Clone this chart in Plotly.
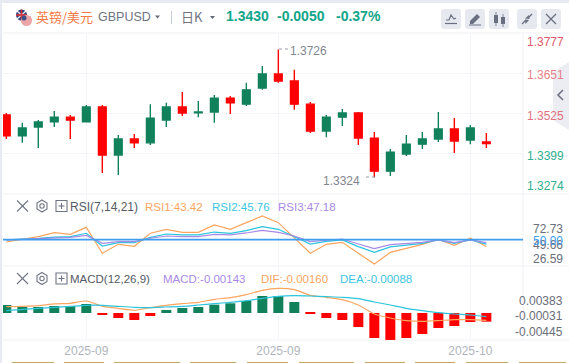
import plotly.graph_objects as go

W, H = 569, 363
dates = ["08-25","08-26","08-27","08-28","08-29","09-01","09-02","09-03","09-04","09-05","09-08",
         "09-09","09-10","09-11","09-12","09-15","09-16","09-17","09-18","09-19","09-22","09-23",
         "09-24","09-25","09-26","09-29","09-30","10-01","10-02","10-03","10-06"]
open_ = [1.3520,1.3454,1.3482,1.3498,1.3513,1.3498,1.3545,1.3394,1.3444,1.3432,1.3504,1.3545,1.3527,1.3529,1.3573,1.3554,
         1.3605,1.3649,1.3627,1.3554,1.3469,1.3513,1.3526,1.3447,1.3343,1.3397,1.3428,1.3444,1.3476,1.3441,1.3435]
close = [1.3454,1.3479,1.3498,1.3513,1.3504,1.3545,1.3394,1.3444,1.3432,1.3510,1.3545,1.3526,1.3529,1.3573,1.3558,1.3599,
         1.3649,1.3627,1.3554,1.3469,1.3513,1.3526,1.3447,1.3343,1.3403,1.3428,1.3444,1.3476,1.3438,1.3479,1.3430]
high =  [1.3526,1.3495,1.3504,1.3532,1.3520,1.3551,1.3551,1.3457,1.3460,1.3554,1.3558,1.3592,1.3564,1.3583,1.3580,1.3621,
         1.3674,1.3726,1.3662,1.3561,1.3520,1.3539,1.3529,1.3466,1.3413,1.3457,1.3466,1.3529,1.3510,1.3488,1.3463]
low =   [1.3444,1.3432,1.3416,1.3482,1.3444,1.3498,1.3337,1.3331,1.3416,1.3425,1.3482,1.3517,1.3513,1.3495,1.3523,1.3548,
         1.3599,1.3621,1.3536,1.3463,1.3450,1.3485,1.3425,1.3324,1.3328,1.3391,1.3413,1.3435,1.3400,1.3428,1.3416]
rsi1 = [47.7,50.3,52.9,56.7,55.1,61.8,36.9,45.5,43.6,56.1,59.9,57.0,57.0,64.1,59.9,66.3,72.7,66.3,51.9,36.9,45.5,47.4,
        36.9,26.6,37.8,41.7,45.5,50.3,44.5,51.3,43.42]
rsi2 = [49.7,50.3,51.3,52.5,52.9,56.1,43.9,47.1,47.1,52.2,55.4,54.5,54.5,57.3,56.1,58.6,62.5,59.9,52.9,45.8,48.4,49.7,
        43.3,37.8,43.0,44.5,46.5,49.7,46.5,49.7,45.76]
rsi3 = [49.7,50.3,51.0,51.9,52.2,54.1,46.5,48.1,48.1,51.3,53.5,52.9,52.9,55.1,54.5,56.4,58.9,57.0,53.5,48.1,49.7,50.6,
        45.8,41.3,45.2,46.5,47.4,49.7,47.1,49.7,47.18]
macd = [.00132,.00099,.00099,.00116,.00116,.00149,-.00033,-.00083,-.00116,-.00050,.00050,.00083,.00099,.00138,.00160,.00198,
        .00281,.00281,.00182,-.00017,-.00083,-.00116,-.00231,-.00413,-.00445,-.00413,-.00347,-.00248,-.00215,-.00149,-.00143]
dif = [.00105,.00110,.00121,.00149,.00160,.00198,.00110,.00077,.00044,.00088,.00127,.00154,.00176,.00226,.00253,.00303,
       .00374,.00407,.00385,.00292,.00259,.00220,.00132,-.00017,-.00083,-.00127,-.00138,-.00127,-.00110,-.00110,-.00121]
dea = [.00039,.00061,.00077,.00094,.00110,.00127,.00127,.00110,.00094,.00088,.00099,.00110,.00132,.00154,.00176,.00204,
       .00242,.00275,.00286,.00281,.00270,.00259,.00237,.00182,.00132,.00077,.00039,.00006,-.00017,-.00033,-.00061]
x_ticks = ["09-01", "09-17", "10-03"]
x_text = ["2025-09", "2025-09", "2025-10"]
price_ticks = [1.3651, 1.3525, 1.3399]

GREEN, RED = "#10815a", "#ff0000"
ORANGE, CYAN, PURPLE, BLUE = "#fba55f", "#2bc4dc", "#a98ae6", "#3f9df0"
GRID = "#f4f5f8"
FONT = "Liberation Sans"

def px(x): return x / W
def py(y): return 1 - y / H

fig = go.Figure()
fig.add_trace(go.Candlestick(x=dates, open=open_, high=high, low=low, close=close, xaxis="x", yaxis="y",
    increasing=dict(line=dict(color=GREEN, width=1.4), fillcolor=GREEN),
    decreasing=dict(line=dict(color=RED, width=1.4), fillcolor=RED),
    whiskerwidth=0, hoverinfo="skip"))
for v, c in ((rsi1, ORANGE), (rsi2, CYAN), (rsi3, PURPLE)):
    fig.add_trace(go.Scatter(x=dates, y=v, mode="lines", line=dict(color=c, width=1.2), xaxis="x2", yaxis="y2", hoverinfo="skip"))
fig.add_trace(go.Bar(x=dates, y=macd, marker=dict(color=[GREEN if m > 0 else RED for m in macd], line_width=0),
                     xaxis="x3", yaxis="y3", hoverinfo="skip"))
for v, c in ((dif, ORANGE), (dea, CYAN)):
    fig.add_trace(go.Scatter(x=dates, y=v, mode="lines", line=dict(color=c, width=1.2, shape="spline", smoothing=0.6),
                             xaxis="x3", yaxis="y3", hoverinfo="skip"))

xcommon = dict(type="category", categoryorder="array", categoryarray=dates, range=[-0.206, 32.29],
               tickmode="array", tickvals=x_ticks, ticktext=x_text, showgrid=True, gridcolor=GRID, gridwidth=1,
               zeroline=False, showline=False, ticks="", domain=[px(3), px(523)], fixedrange=True,
               rangeslider=dict(visible=False))
ycommon = dict(side="right", showticklabels=False, zeroline=False, showline=False, ticks="", fixedrange=True)

fig.update_layout(
    width=W, height=H, margin=dict(l=0, r=0, t=0, b=0), paper_bgcolor="white", plot_bgcolor="white",
    showlegend=False, boxgap=0.31, bargap=0.375, font=dict(family=FONT),
    xaxis={**xcommon, "anchor": "y", "showticklabels": False},
    xaxis2={**xcommon, "anchor": "y2", "showticklabels": False, "matches": "x"},
    xaxis3={**xcommon, "anchor": "y3", "showticklabels": True, "matches": "x", "ticklabelstandoff": 2,
            "tickfont": dict(color="#b2b5c0", size=12, family=FONT)},
    yaxis={**ycommon, "domain": [py(194), py(33)], "range": [1.3271, 1.3778], "tickmode": "array",
           "tickvals": price_ticks, "showgrid": True, "gridcolor": GRID, "anchor": "x"},
    yaxis2={**ycommon, "domain": [py(266), py(194)], "range": [24.7, 93.8], "showgrid": False, "anchor": "x2"},
    yaxis3={**ycommon, "domain": [py(340), py(266)], "range": [-.00446, .00776], "showgrid": False, "anchor": "x3"},
)

shapes = []
def rect(x0, y0, x1, y1, color):
    shapes.append(dict(type="rect", xref="paper", yref="paper", x0=px(x0), x1=px(x1), y0=py(y1), y1=py(y0),
                       fillcolor=color, line_width=0, layer="below"))
def seg(points, color, width=1.5, dash=None, fill=None, closed=False):
    d = "M" + " L".join(f"{px(a):.5f},{py(b):.5f}" for a, b in points) + (" Z" if closed else "")
    shapes.append(dict(type="path", xref="paper", yref="paper", path=d, fillcolor=fill,
                       line=dict(color=color, width=width, dash=dash or "solid") if width else dict(width=0)))
def rrect(x0, y0, x1, y1, r, color):
    d = (f"M{px(x0+r)},{py(y0)} L{px(x1-r)},{py(y0)} Q{px(x1)},{py(y0)} {px(x1)},{py(y0+r)} "
         f"L{px(x1)},{py(y1-r)} Q{px(x1)},{py(y1)} {px(x1-r)},{py(y1)} L{px(x0+r)},{py(y1)} "
         f"Q{px(x0)},{py(y1)} {px(x0)},{py(y1-r)} L{px(x0)},{py(y0+r)} Q{px(x0)},{py(y0)} {px(x0+r)},{py(y0)} Z")
    shapes.append(dict(type="path", xref="paper", yref="paper", path=d, fillcolor=color, line_width=0))
def circle(cx, cy, r, color):
    shapes.append(dict(type="circle", xref="paper", yref="paper", x0=px(cx-r), x1=px(cx+r), y0=py(cy+r), y1=py(cy-r),
                       fillcolor=color, line_width=0))

# page frame
rect(0, 0, W, 3, "#e8eaf2")
rect(0, 0, 2, H, "#e8eaf2")
for y in (33, 194, 266, 340):
    rect(3, y - 0.5, 569, y + 0.5, "#f1f2f6")
rect(522.5, 33, 523.5, 340, "#f1f2f6")
# bottom tabs
for a, b in ((12,54),(64,104),(114,180),(190,236),(247,288),(299,354),(365,405),(415,455),(466,508),(519,566)):
    rect(a, 362, b, 363, "#c9a560")
# collapse tab
seg([(569,62),(553,72),(553,120),(569,130)], "#ecedf2", 0, fill="#ecedf2", closed=True)
seg([(563,90),(558,95),(563,100)], "#6f7484", 1.6)
# flags
circle(21.5, 15, 5.5, "#2a3f7e")
seg([(17,11),(26,19)], "#e8e8ee", 1.5); seg([(26,11),(17,19)], "#e8e8ee", 1.5)
seg([(21.5,9.5),(21.5,20.5)], "#d8303a", 1.6); seg([(16,15),(27,15)], "#d8303a", 1.6)
circle(26.5, 20.5, 5.5, "#e9a5a8")
rect(22, 16.5, 31, 17.5, "#d85058"); rect(21.5, 19.5, 32, 20.5, "#d85058"); rect(22, 22.5, 31, 23.5, "#d85058")
circle(24, 18, 2.5, "#3c4f88")
# header divider
rect(171, 11, 172, 24, "#c8ccd6")
# dropdown carets
seg([(155,15.5),(160,15.5),(157.5,18.5)], "#666b78", 0, fill="#666b78", closed=True)
seg([(210,16),(215,16),(212.5,19)], "#666b78", 0, fill="#666b78", closed=True)
# toolbar buttons
for a in (441, 465, 489, 517, 541):
    rrect(a, 9, a + 20, 29, 3, "#e6e9f0")
ICON = "#6b7080"
seg([(446,20),(449,20),(451,15),(454,19),(456,18)], ICON, 1.2); seg([(445,23.5),(457,23.5)], ICON, 1.2)
seg([(470,21),(477,14),(480,17),(473,24),(470,24)], ICON, 0, fill=ICON, closed=True); seg([(469,25),(481,25)], ICON, 1)
seg([(494,15),(498,15),(498,23),(494,23)], ICON, 0, fill=ICON, closed=True); seg([(496,12),(496,26)], ICON, 0.8)
seg([(501,17),(505,17),(505,24),(501,24)], ICON, 0, fill=ICON, closed=True); seg([(503,14),(503,27)], ICON, 0.8)
seg([(522,24),(526,20)], ICON, 1.2); seg([(528,18),(532,14)], ICON, 1.2)
seg([(529,15),(529.5,19),(525,18.5)], ICON, 0, fill=ICON, closed=True)
seg([(525,19.5),(529,20),(525.5,24)], ICON, 0, fill=ICON, closed=True)
seg([(546,14),(556,24)], ICON, 1.2); seg([(556,14),(546,24)], ICON, 1.2)
# pane controls
for yc in (206, 278.5):
    seg([(17,yc-5.5),(28,yc+5.5)], "#6f7484", 1.1); seg([(28,yc-5.5),(17,yc+5.5)], "#6f7484", 1.1)
    seg([(42,yc-6),(47,yc-3),(47,yc+3),(42,yc+6),(37,yc+3),(37,yc-3)], "#6f7484", 1.1, closed=True)
    shapes.append(dict(type="circle", xref="paper", yref="paper", x0=px(39.8), x1=px(44.2), y0=py(yc+2.2), y1=py(yc-2.2),
                       line=dict(color="#6f7484", width=1.1)))
    seg([(56,yc-5.5),(67,yc-5.5),(67,yc+5.5),(56,yc+5.5)], "#6f7484", 1.1, closed=True)
    seg([(61.5,yc-3),(61.5,yc+3)], "#6f7484", 1.1); seg([(58.5,yc),(64.5,yc)], "#6f7484", 1.1)
# RSI 50 line
shapes.append(dict(type="line", xref="paper", yref="y2", x0=px(3), x1=px(523), y0=50, y1=50,
                   line=dict(color=BLUE, width=1.6)))
# high / low dotted leaders
seg([(279,49),(289,49)], "#9a9dab", 1, dash="dot")
seg([(366,177),(375,177)], "#9a9dab", 1, dash="dot")
fig.update_layout(shapes=shapes)

anns = []
def text(x, y, s, color, size=12, anchor="left", family=FONT, bold=False):
    anns.append(dict(xref="paper", yref="paper", x=px(x), y=py(y), text=f"<b>{s}</b>" if bold else s, showarrow=False,
                     xanchor=anchor, yanchor="middle", font=dict(color=color, size=size, family=family),
                     xshift=0, yshift=0, borderpad=0, borderwidth=0))
CJK = "Noto Sans CJK SC"
text(36, 16.5, "英镑/美元", "#f57a45", 13, family=CJK)
text(98, 17.5, "GBPUSD", "#70747f", 12.5)
text(181, 16.5, "日K", "#70747f", 13, family=CJK)
text(226, 16.5, "1.3430", "#12a58a", 14, bold=True)
text(277, 16.5, "-0.0050", "#12a58a", 14, bold=True)
text(336, 16.5, "-0.37%", "#12a58a", 14, bold=True)
for lab, y, c in (("1.3777", 42, "#de5a6c"), ("1.3651", 75, "#e57f8c"), ("1.3525", 116, "#e2707f"),
                  ("1.3399", 156, "#2fae90"), ("1.3274", 186, "#2fae90")):
    text(564, y, lab, c, 12, "right")
text(290, 51.5, "1.3726", "#83868f", 12)
text(323, 180.5, "1.3324", "#83868f", 12)
text(70, 206.5, "RSI(7,14,21)", "#555a66", 12)
text(145, 206.5, "RSI1:43.42", ORANGE, 11.5)
text(212, 206.5, "RSI2:45.76", "#3cc5e2", 11.5)
text(278, 206.5, "RSI3:47.18", "#a98ae6", 11.5)
for lab, y, c in (("72.73", 229, "#6a6e7a"), ("49.66", 245, "#6a6e7a"), ("50.00", 241, "#3f9df0"), ("26.59", 259, "#6a6e7a")):
    text(563, y, lab, c, 12, "right")
text(70, 279, "MACD(12,26,9)", "#555a66", 11.5)
text(163, 279, "MACD:-0.00143", PURPLE, 11.5)
text(261, 279, "DIF:-0.00160", ORANGE, 11.5)
text(340, 279, "DEA:-0.00088", "#3cc5e2", 11.5)
for lab, y in (("0.00383", 300.5), ("-0.00031", 315.5), ("-0.00445", 331.5)):
    text(563, y, lab, "#6a6e7a", 12, "right")
fig.update_layout(annotations=anns)

fig.write_html("out.html", config=dict(displayModeBar=False),
               post_script="document.body.style.margin='0';document.body.style.overflow='hidden';")
